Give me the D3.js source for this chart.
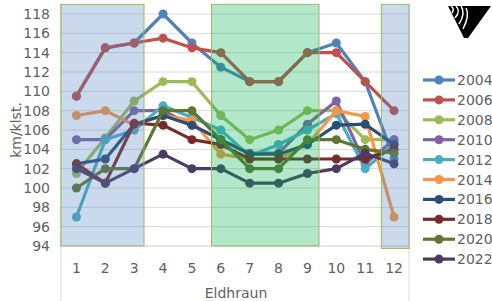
<!DOCTYPE html>
<html>
<head>
<meta charset="utf-8">
<script src="https://cdn.jsdelivr.net/npm/d3@7"></script>
<style>
  body { margin: 0; background: #fff; }
  text { font-family: "DejaVu Sans", sans-serif; fill: #5f5f5f; }
</style>
</head>
<body>
<svg id="chart" width="492" height="301"></svg>
<script>
// months along the road (x categories)
const months = [1, 2, 3, 4, 5, 6, 7, 8, 9, 10, 11, 12];
const years = ["2004", "2006", "2008", "2010", "2012", "2014", "2016", "2018", "2020", "2022"];
const yTicks = [94, 96, 98, 100, 102, 104, 106, 108, 110, 112, 114, 116, 118];

// average speed km/klst. per year
const s2004 = [109.5, 114.5, 115, 118, 115, 112.5, 111, 111, 114, 115, 111, 103];
const s2006 = [109.5, 114.5, 115, 115.5, 114.5, 114, 111, 111, 114, 114, 111, 108];
const s2008 = [101.5, 105.2, 109, 111, 111, 107.5, 105, 106, 108, 108, 105, 105];
const s2010 = [105, 105, 108, 108, 106.5, 105, 103.6, 103.6, 106.6, 109, 102.5, 105];
const s2012 = [97, 105, 106, 108.5, 107.3, 106, 103.3, 104.5, 106, 107.7, 102, 104.5];
const s2014 = [107.5, 108, 106.5, 107.5, 107, 103.5, 103, 103, 104.5, 108, 107.4, 97];
const s2016 = [102.5, 103, 106.6, 107.5, 106.5, 105, 103.5, 103.5, 104.5, 106.5, 106.6, 104.5];
const s2018 = [102.5, 100.5, 106.7, 106.5, 105, 104.5, 103, 103, 103, 103, 103, 104];
const s2020 = [100, 102, 102, 108, 108, 105, 102, 102, 105, 105, 104, 103.6];
const s2022 = [102, 100.5, 102, 103.5, 102, 102, 100.5, 100.5, 101.5, 102, 103.6, 102.5];
const seriesValues = [s2004, s2006, s2008, s2010, s2012, s2014, s2016, s2018, s2020, s2022];

const colors = ["#4F81BD", "#C0504D", "#9BBB59", "#8064A2", "#4BACC6", "#F79646",
                "#2C4D75", "#772C2A", "#5F7530", "#4D3B62"];

// highlighted stretches [from, to, bottom] in month units
const blueSpans = [[0.46, 3.34, 94], [11.56, 12.52, 93.75]];
const greenSpans = [[5.68, 9.4, 94]];

const svg = d3.select("#chart");

const x = d3.scaleLinear().domain([0.5, 12.5]).range([62, 408.5]);
const y = d3.scaleLinear().domain([94, 118]).range([246, 14]);

// gridlines
svg.append("g")
  .selectAll("line")
  .data(yTicks)
  .join("line")
    .attr("x1", 61).attr("x2", 408.5)
    .attr("y1", d => y(d)).attr("y2", d => y(d))
    .attr("stroke", d => d === 94 ? "#d0d0d0" : "#d9d9d9")
    .attr("stroke-width", 1);

// y axis line + right frame line
svg.append("line").attr("x1", 61).attr("x2", 61).attr("y1", 5).attr("y2", 301)
  .attr("stroke", "#d9d9d9");
svg.append("line").attr("x1", 409).attr("x2", 409).attr("y1", 5).attr("y2", 301)
  .attr("stroke", "#d9d9d9");

// y tick labels
svg.append("g")
  .selectAll("text")
  .data(yTicks)
  .join("text")
    .attr("x", 50)
    .attr("y", d => y(d) + 5)
    .attr("text-anchor", "end")
    .style("font-size", "14px")
    .text(d => d);

// x tick labels
svg.append("g")
  .selectAll("text")
  .data(months)
  .join("text")
    .attr("x", d => x(d))
    .attr("y", 273)
    .attr("text-anchor", "middle")
    .style("font-size", "14px")
    .text(d => d);

svg.append("text")
  .attr("x", 236).attr("y", 298)
  .attr("text-anchor", "middle")
  .style("font-size", "14px")
  .text("Eldhraun");

svg.append("text")
  .attr("transform", "translate(21,130) rotate(-90)")
  .attr("text-anchor", "middle")
  .style("font-size", "14px")
  .text("km/klst.");

// lines and markers
const line = d3.line().x((d, i) => x(months[i])).y(d => y(d));

const series = svg.append("g")
  .selectAll("g")
  .data(seriesValues)
  .join("g");

series.append("path")
  .attr("d", d => line(d))
  .attr("fill", "none")
  .attr("stroke", (d, i) => colors[i])
  .attr("stroke-width", 3.2)
  .attr("stroke-linejoin", "round");

series.each(function(vals, i) {
  d3.select(this).selectAll("circle")
    .data(vals)
    .join("circle")
      .attr("cx", (d, j) => x(months[j]))
      .attr("cy", d => y(d))
      .attr("r", 4.5)
      .attr("fill", colors[i]);
});

// translucent highlight boxes drawn over the lines
svg.append("g")
  .selectAll("rect")
  .data(blueSpans)
  .join("rect")
    .attr("x", d => x(d[0]))
    .attr("y", y(119))
    .attr("width", d => x(d[1]) - x(d[0]))
    .attr("height", d => y(d[2]) - y(119))
    .attr("fill", "#4F81BD")
    .attr("fill-opacity", 0.3)
    .attr("stroke", "#9BBB59")
    .attr("stroke-width", 1);

svg.append("g")
  .selectAll("rect")
  .data(greenSpans)
  .join("rect")
    .attr("x", d => x(d[0]))
    .attr("y", y(119))
    .attr("width", d => x(d[1]) - x(d[0]))
    .attr("height", d => y(d[2]) - y(119))
    .attr("fill", "#00B050")
    .attr("fill-opacity", 0.3)
    .attr("stroke", "#9BBB59")
    .attr("stroke-width", 1);

// legend
const legend = svg.append("g")
  .selectAll("g")
  .data(years)
  .join("g")
    .attr("transform", (d, i) => "translate(0," + (80 + i * 19.9) + ")");

legend.append("line")
  .attr("x1", 423).attr("x2", 455)
  .attr("stroke", (d, i) => colors[i])
  .attr("stroke-width", 3.2);
legend.append("circle")
  .attr("cx", 439).attr("r", 4.5)
  .attr("fill", (d, i) => colors[i]);
legend.append("text")
  .attr("x", 457).attr("y", 5)
  .style("font-size", "14px")
  .text(d => d);

// logo in the corner: black wedge with white stripes on its left part
const logo = svg.append("g");
logo.append("path")
  .attr("d", "M448,6 L491,6 L468,38 L464,38 Z")
  .attr("fill", "#000");
["M451,6 Q455,9 452,13", "M456,6 Q461,11 455,18", "M461,6 Q466,13 459,24", "M466,8 Q470,15 463,29"]
  .forEach(p => logo.append("path").attr("d", p).attr("fill", "none")
    .attr("stroke", "#fff").attr("stroke-width", 1.5));
</script>
</body>
</html>
